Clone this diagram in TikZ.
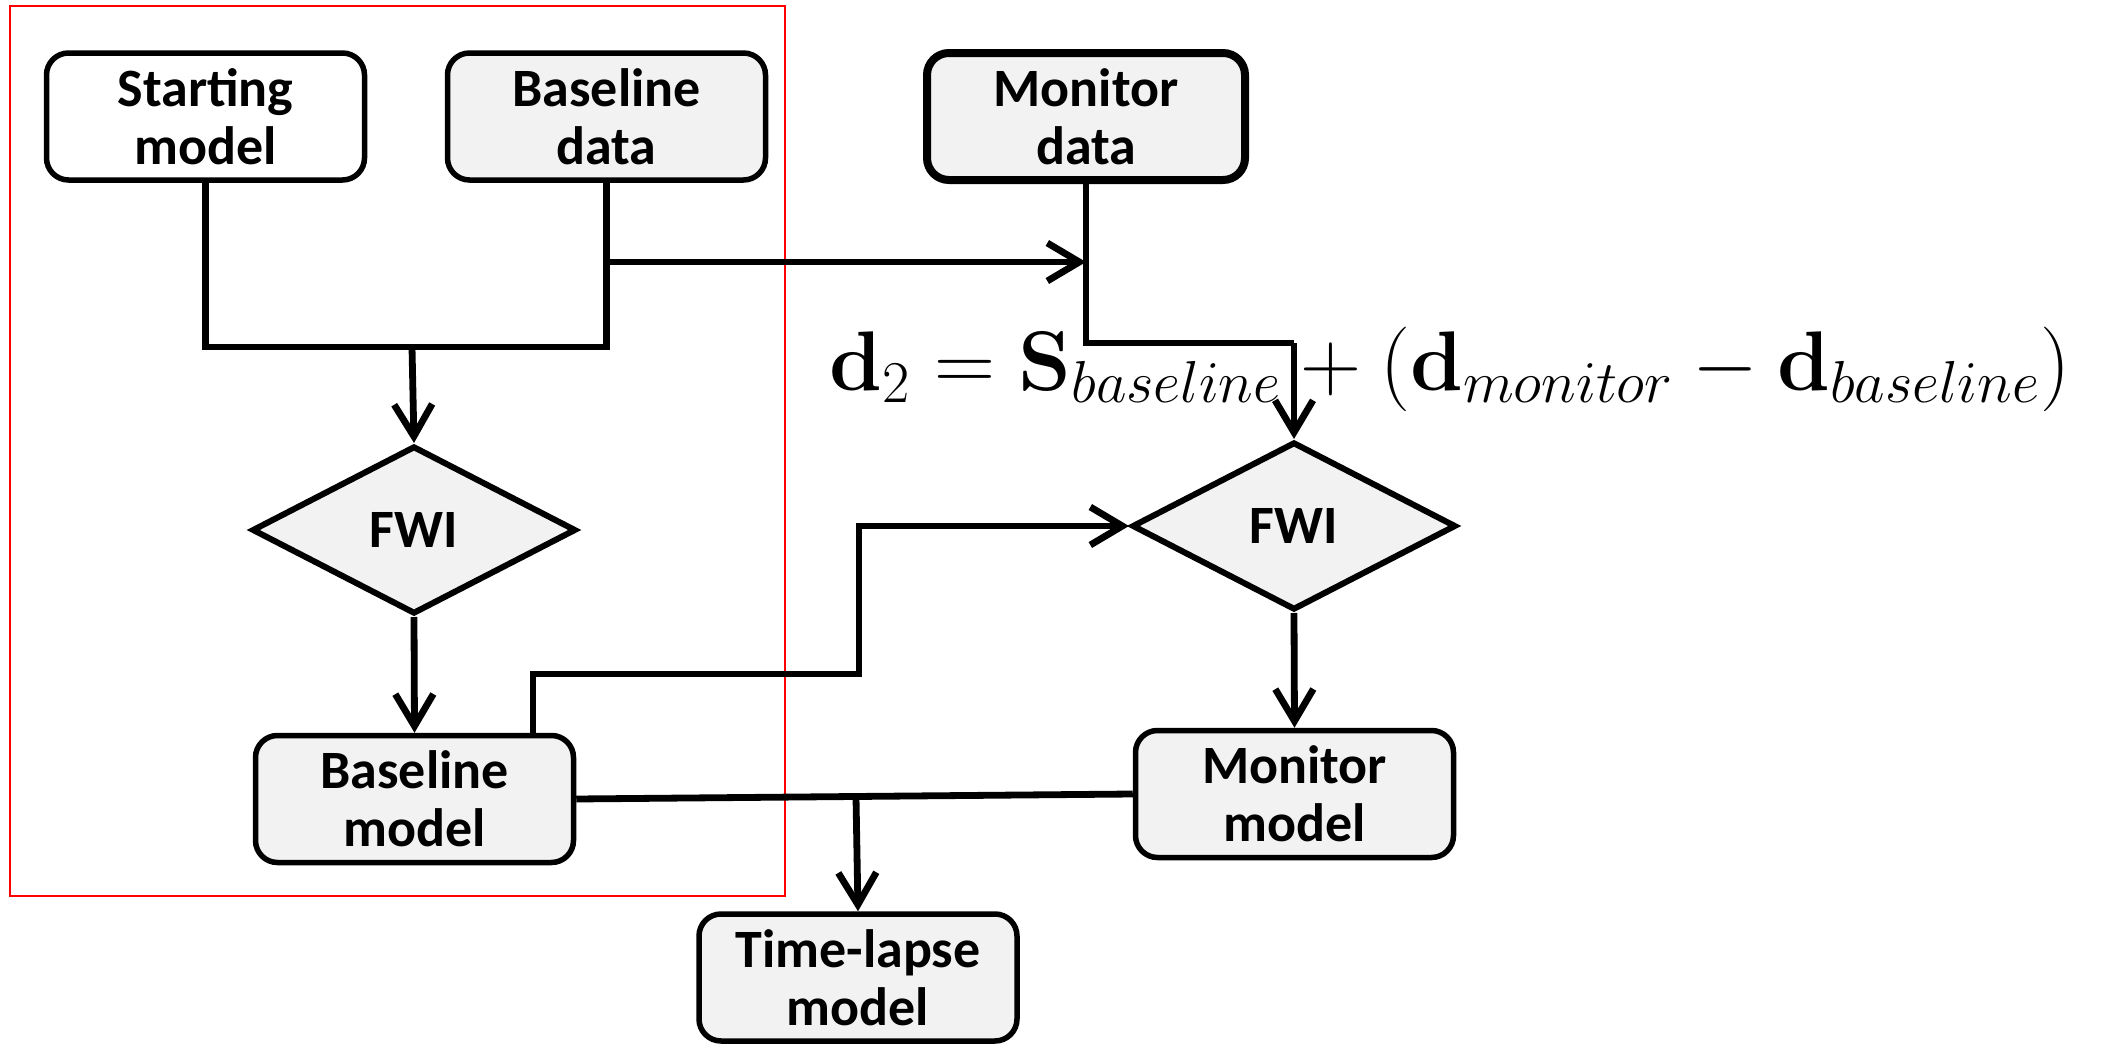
\RequirePackage{fix-cm}
\documentclass[tikz,border=0pt]{standalone}
\usepackage[no-math]{fontspec}
\setmainfont{Carlito}
\usepackage{graphicx}
\usetikzlibrary{shapes.geometric,arrows.meta}

\definecolor{boxgray}{HTML}{F2F2F2}

\tikzset{
  flowbox/.style={draw=black, line width=2.75pt, rounded corners=11pt,
    fill=boxgray, minimum width=159pt, minimum height=63.5pt,
    align=center, inner sep=0pt,
    font=\fontsize{27}{29}\selectfont\bfseries},
  fwibox/.style={draw=black, line width=3pt, shape=diamond, fill=boxgray,
    minimum width=162pt, minimum height=84pt, inner sep=0pt,
    font=\fontsize{27}{29}\selectfont\bfseries},
  link/.style={draw=black, line width=3.4pt},
  arr/.style={link, -{Straight Barb[length=16pt,width=19pt,line width=3.4pt]}}
}

\begin{document}
\begin{tikzpicture}[x=0.5pt,y=-0.5pt]
\useasboundingbox (0,0) rectangle (2101,1044);

% frame around the baseline inversion
\draw[red, line width=1pt] (10,6) rectangle (785,896);

% data and model boxes
\node[flowbox, fill=white] (start) at (205.5,116.5) {Starting\\model};
\node[flowbox] (bdata) at (606.5,116.5) {Baseline\\data};
\node[flowbox, line width=4pt] (mdata) at (1086,116.5) {Monitor\\data};
\node[fwibox] (fwi1) at (414,530) {FWI};
\node[fwibox] (fwi2) at (1294,526) {FWI};
\node[flowbox] (bmodel) at (414.5,799) {Baseline\\model};
\node[flowbox] (mmodel) at (1294.5,794) {Monitor\\model};
\node[flowbox] (tl) at (858,977.5) {Time-lapse\\model};

% data-difference formula
\node[anchor=base west, inner sep=0pt] (eq) at (829,390)
  {\resizebox{620.5pt}{!}{\fontsize{37}{44}\selectfont
   $\mathbf{d}_2 = \mathbf{S}_{baseline} + (\mathbf{d}_{monitor} - \mathbf{d}_{baseline})$}};

% junction points
\coordinate (j1) at (412,347);
\coordinate (b1) at (607,262);
\coordinate (j2) at (1294,343);
\coordinate (k1) at (859,674);
\coordinate (j3) at (856,797);

% baseline inversion
\draw[link] (start.south) |- (j1) -| (bdata.south);
\draw[arr] (j1) -- (fwi1.north);
\draw[arr] (fwi1.south) -- (bmodel.north);

% monitor inversion
\draw[arr] (b1) -- (b1 -| mdata.south);
\draw[link] (mdata.south) |- (j2);
\draw[arr] (j2) -- (fwi2.north);
\draw[arr] ([xshift=59.25pt]bmodel.north) |- (k1) |- (fwi2.west);
\draw[arr] (fwi2.south) -- (mmodel.north);

% time-lapse difference
\draw[link] (bmodel.east) -- (mmodel.west);
\draw[arr] (j3) -- (tl.north);
\end{tikzpicture}
\end{document}
